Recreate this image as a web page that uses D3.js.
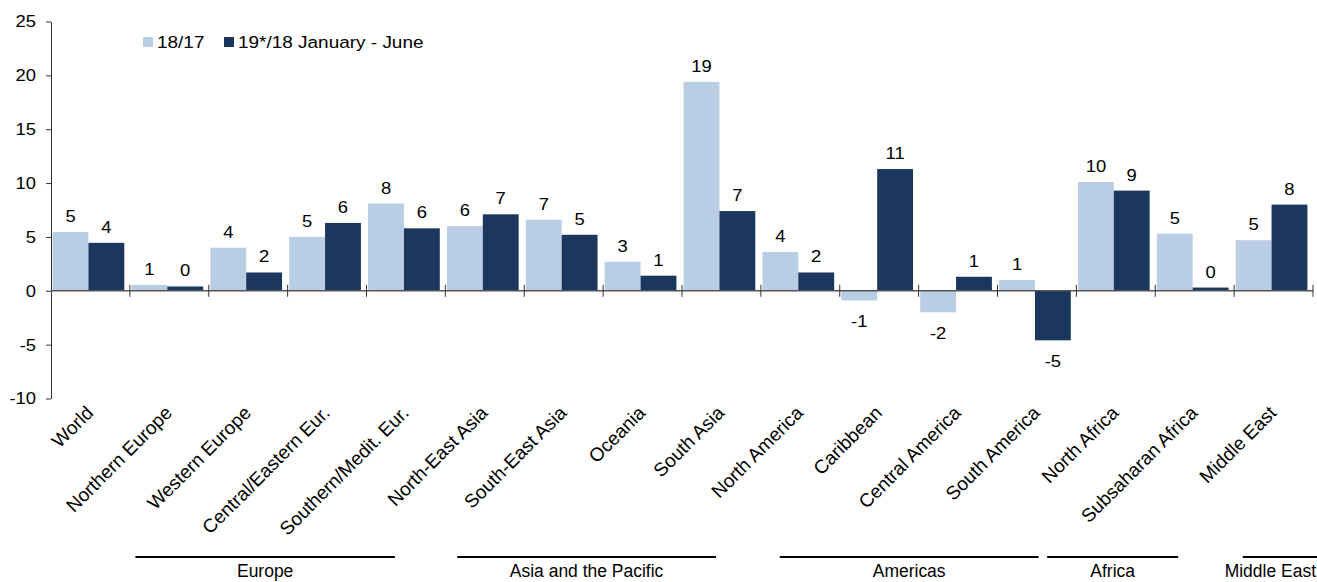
<!DOCTYPE html>
<html lang="en">
<head>
  <meta charset="UTF-8" />
  <title>Growth by region</title>
  <script src="https://d3js.org/d3.v7.min.js"></script>
  <style>
    body { margin: 0; background: #fff; }
    svg { display: block; font-family: "Liberation Sans", Arial, sans-serif; }
    .tick text { font-size: 16px; fill: #000; }
    .val { font-size: 16px; fill: #000; }
    .cat { font-size: 19px; fill: #000; }
    .grp { font-size: 19px; fill: #000; }
    .legend text { font-size: 16.5px; fill: #000; }
  </style>
</head>
<body>
<svg width="1317" height="582"></svg>
<script>
  // données
  const categories = ["World", "Northern Europe", "Western Europe", "Central/Eastern Eur.",
    "Southern/Medit. Eur.", "North-East Asia", "South-East Asia", "Oceania", "South Asia",
    "North America", "Caribbean", "Central America", "South America", "North Africa",
    "Subsaharan Africa", "Middle East"];
  const seriesNames = ["18/17", "19*/18 January - June"];
  const s1817 = [5.45, 0.55, 4.0, 5.0, 8.1, 6.0, 6.6, 2.7, 19.4, 3.6, -0.9, -2.0, 1.0, 10.1, 5.3, 4.7];
  const s1918 = [4.45, 0.4, 1.7, 6.3, 5.8, 7.1, 5.2, 1.4, 7.4, 1.7, 11.3, 1.3, -4.6, 9.3, 0.3, 8.0];
  const yTicks = [-10, -5, 0, 5, 10, 15, 20, 25];
  // groupes (en unités de catégorie)
  const groups = [
    {name: "Europe", from: 1.07, to: 4.36},
    {name: "Asia and the Pacific", from: 5.15, to: 8.43},
    {name: "Americas", from: 9.24, to: 12.52},
    {name: "Africa", from: 12.63, to: 14.29},
    {name: "Middle East", from: 15.11, to: 16.1}
  ];
  const colors = ["#b9cde5", "#1b375e"];

  const SX = 1.15;   // le texte de l'original est un peu étiré en largeur
  const svg = d3.select("svg");
  const W = +svg.attr("width");

  const x = d3.scaleBand().domain(categories).range([51, 1313]);
  const xu = d3.scaleLinear().domain([0, categories.length]).range([51, 1313]);
  const y = d3.scaleLinear().domain([-10, 25]).range([398.5, 21.5]);
  const xs = d3.scaleBand().domain([0, 1]).range([0, x.bandwidth()]).paddingOuter(0.1);

  // axe Y
  const yAxis = svg.append("g")
    .attr("transform", "translate(51,0)")
    .call(d3.axisLeft(y).tickValues(yTicks).tickFormat(d => String(d))
      .tickSize(5).tickPadding(10).tickSizeOuter(0));
  yAxis.select(".domain").attr("stroke", "#333");
  yAxis.selectAll(".tick line").attr("stroke", "#333");
  yAxis.selectAll(".tick text")
    .attr("x", 0).attr("dy", "0.34em")
    .attr("transform", `translate(-15,0) scale(${SX},1)`);

  // barres
  const data = categories.map((c, i) => ({cat: c, vals: [s1817[i], s1918[i]]}));
  const grp = svg.append("g").selectAll("g").data(data).enter().append("g")
    .attr("transform", d => `translate(${x(d.cat) - 2},0)`);

  grp.selectAll("rect").data(d => d.vals.map((v, k) => ({v, k}))).enter().append("rect")
    .attr("x", d => xs(d.k))
    .attr("width", xs.bandwidth())
    .attr("y", d => y(Math.max(0, d.v)))
    .attr("height", d => Math.abs(y(d.v) - y(0)))
    .attr("fill", d => colors[d.k]);

  grp.selectAll("text").data(d => d.vals.map((v, k) => ({v, k}))).enter().append("text")
    .attr("class", "val")
    .attr("text-anchor", "middle")
    .attr("transform", d => `translate(${xs(d.k) + xs.bandwidth() / 2},${d.v >= 0 ? y(d.v) - 10 : y(d.v) + 27}) scale(${SX},1)`)
    .text(d => String(Math.round(d.v)));

  // axe X à zéro
  const x0 = y(0);
  svg.append("line").attr("x1", 51).attr("x2", 1313).attr("y1", x0).attr("y2", x0)
    .attr("stroke", "#555").attr("stroke-width", 1.5);
  svg.append("g").selectAll("line").data(d3.range(1, categories.length + 1)).enter().append("line")
    .attr("x1", d => xu(d)).attr("x2", d => xu(d))
    .attr("y1", x0 - 6).attr("y2", x0 + 6)
    .attr("stroke", "#333");

  // libellés catégories
  svg.append("g").selectAll("text").data(categories).enter().append("text")
    .attr("class", "cat")
    .attr("text-anchor", "end")
    .attr("transform", d => `translate(${x(d) + x.bandwidth() / 2 + 4},414) rotate(-45)`)
    .text(d => d);

  // groupes
  const g2 = svg.append("g");
  groups.forEach(gr => {
    const a = xu(gr.from), b = xu(gr.to);
    g2.append("line").attr("x1", a).attr("x2", b).attr("y1", 557).attr("y2", 557)
      .attr("stroke", "#000").attr("stroke-width", 2);
    const t = g2.append("text").attr("class", "grp").attr("text-anchor", "middle").text(gr.name);
    const w = t.node().getComputedTextLength() * 0.92;
    const cx = Math.min((a + b) / 2, W - 1 - w / 2);
    t.attr("transform", `translate(${cx},577) scale(0.92,1)`);
  });

  // légende
  const leg = svg.append("g").attr("class", "legend");
  const legX = [143, 224];
  seriesNames.forEach((s, i) => {
    leg.append("rect").attr("x", legX[i]).attr("y", 37).attr("width", 10).attr("height", 10).attr("fill", colors[i]);
    leg.append("text").attr("transform", `translate(${legX[i] + 14},48) scale(${SX},1)`).text(s);
  });
</script>
</body>
</html>
